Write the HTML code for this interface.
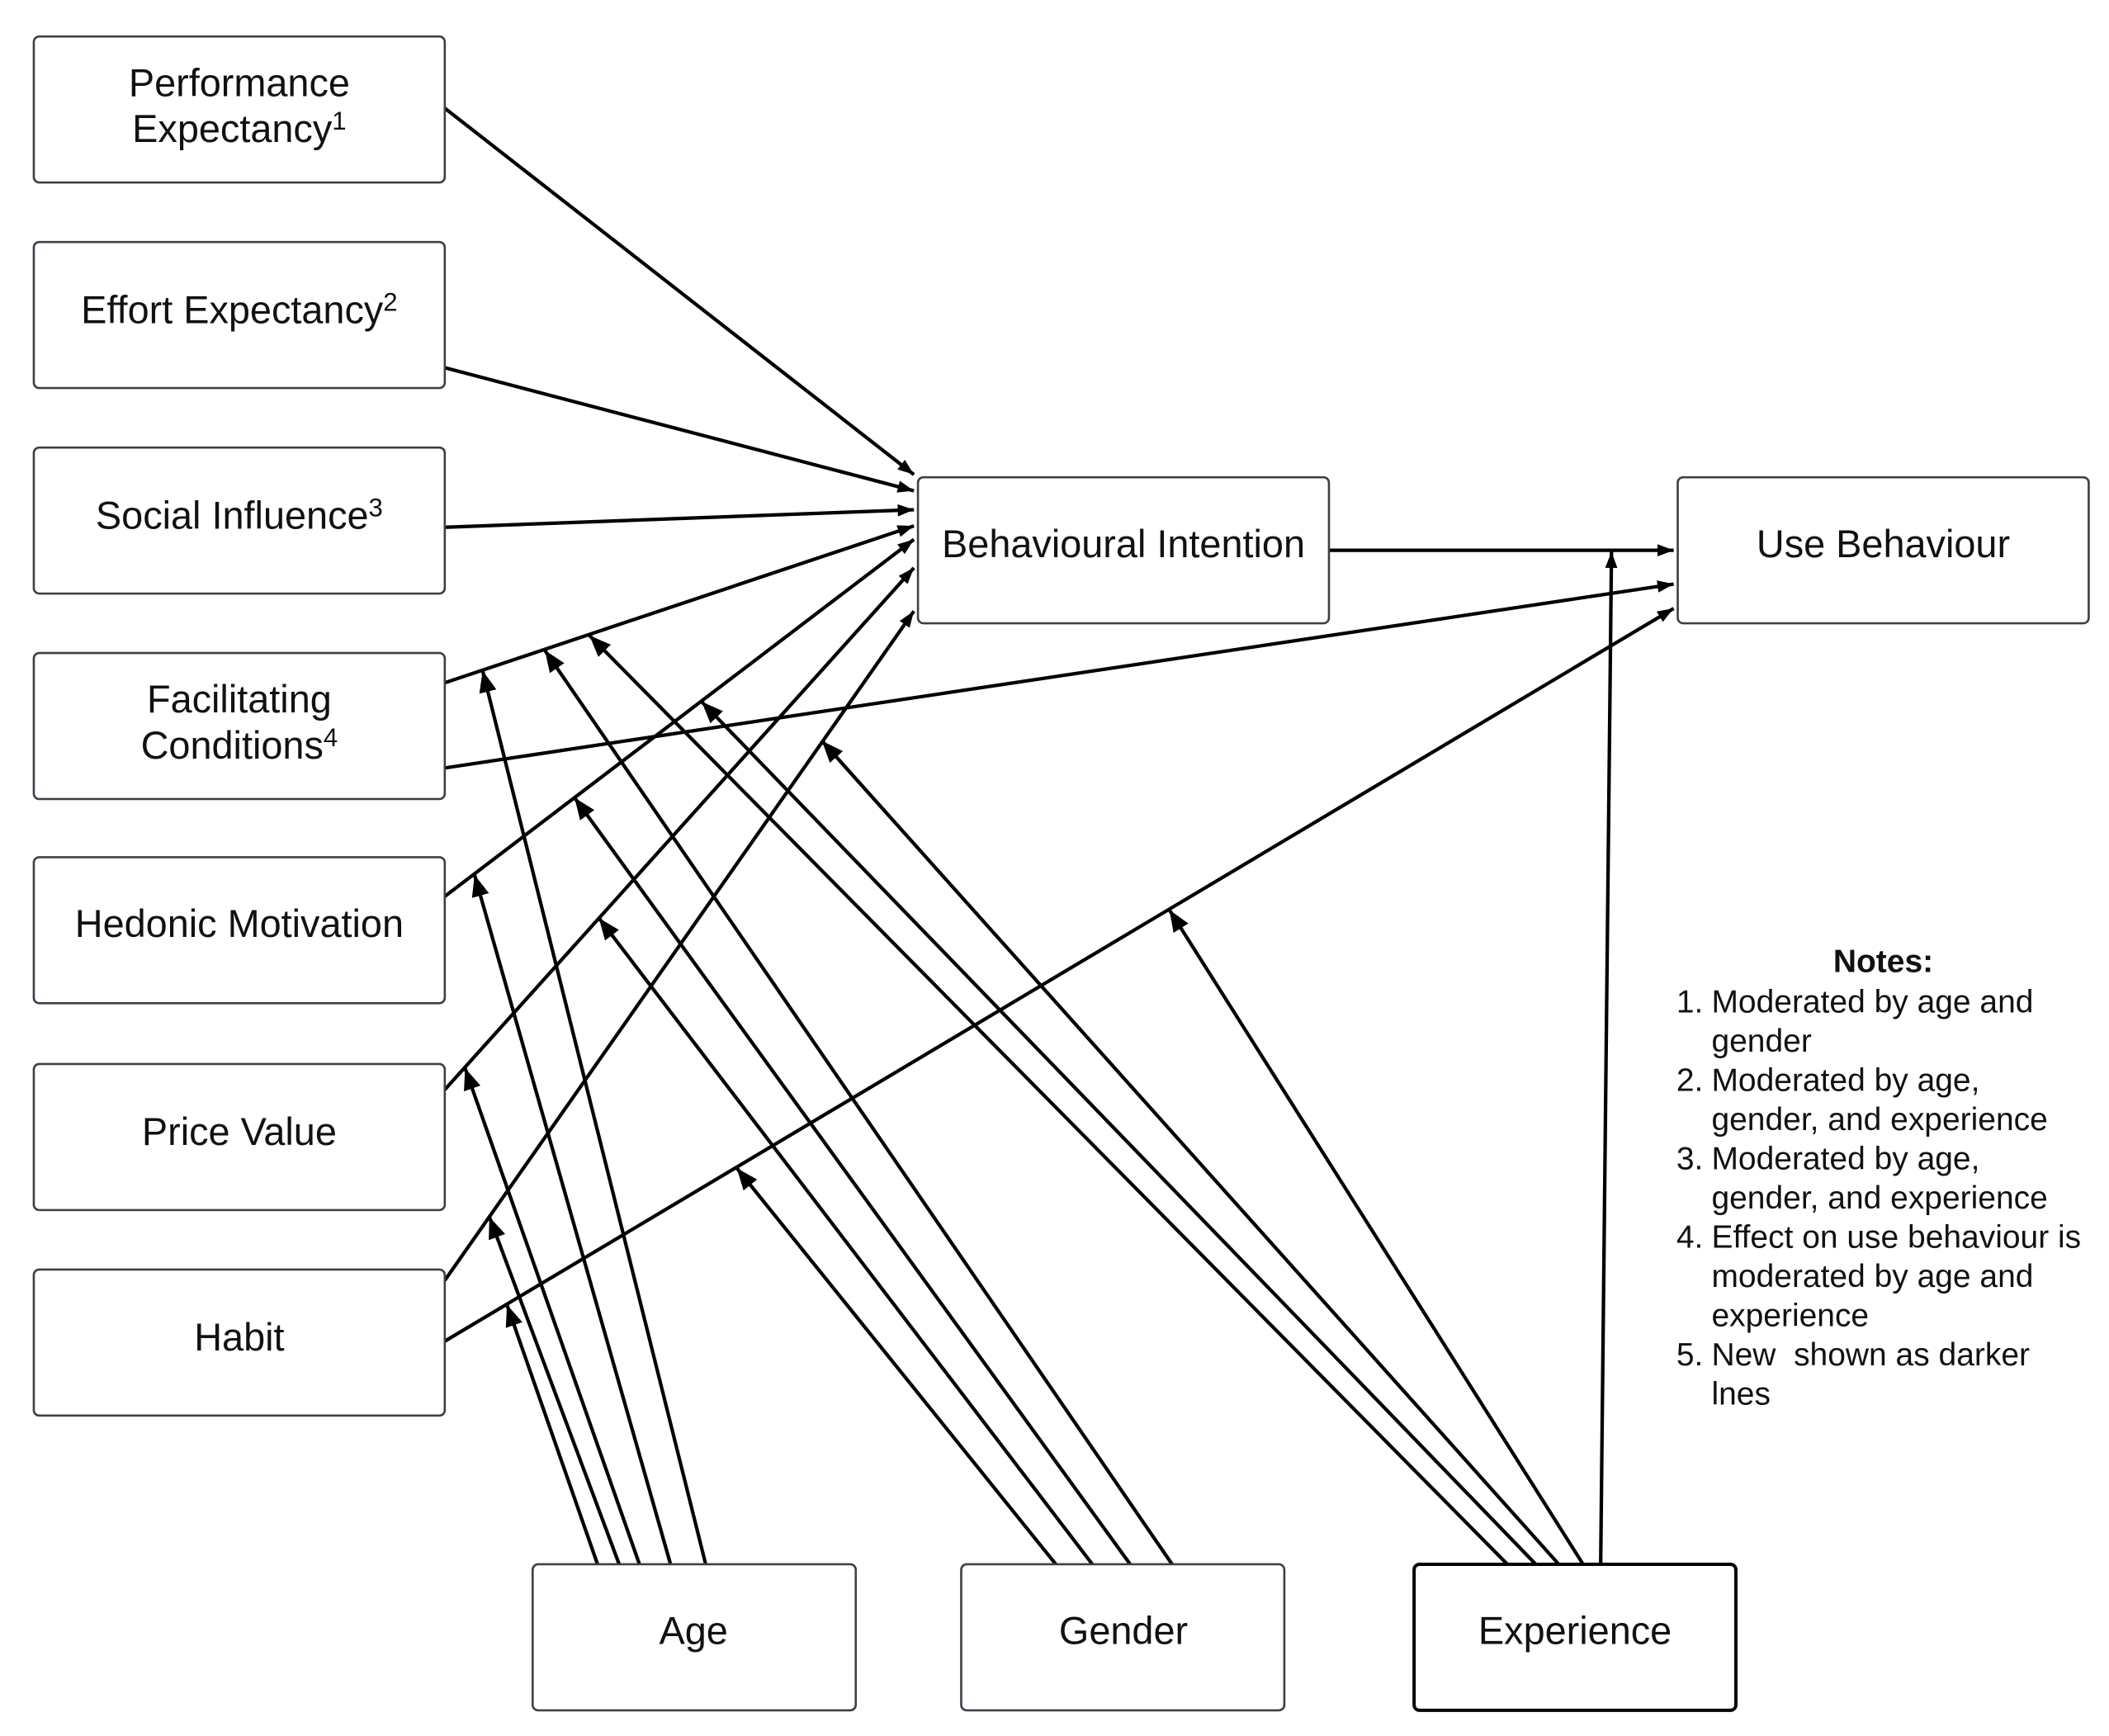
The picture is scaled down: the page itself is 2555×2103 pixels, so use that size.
<!DOCTYPE html>
<html><head><meta charset="utf-8"><style>
html,body{margin:0;padding:0;background:#fff;}
svg{display:block;}
text{font-family:"Liberation Sans",Arial,sans-serif;fill:#111;}
</style></head><body>
<svg width="2555" height="2103" viewBox="0 0 1560 1284" preserveAspectRatio="none" xmlns="http://www.w3.org/2000/svg">
<defs>
<marker id="a" markerUnits="userSpaceOnUse" markerWidth="18" markerHeight="14" refX="16" refY="6.5" orient="auto"><path d="M0,0 L16,6.5 L0,13 Z" fill="#000"/></marker>
<marker id="s" markerUnits="userSpaceOnUse" markerWidth="14" markerHeight="10" refX="12" refY="4.5" orient="auto"><path d="M0,0 L12,4.5 L0,9 Z" fill="#000"/></marker>
</defs>
<g stroke="#000" stroke-width="2.6" fill="none">
<line x1="329" y1="80" x2="676" y2="351" marker-end="url(#s)"/>
<line x1="329" y1="272" x2="676" y2="363" marker-end="url(#s)"/>
<line x1="329" y1="390" x2="676" y2="377" marker-end="url(#s)"/>
<line x1="329" y1="505" x2="676" y2="389" marker-end="url(#s)"/>
<line x1="329" y1="663" x2="676" y2="399" marker-end="url(#s)"/>
<line x1="329" y1="806" x2="676" y2="420" marker-end="url(#s)"/>
<line x1="329" y1="947" x2="676" y2="452" marker-end="url(#s)"/>
<line x1="329" y1="568" x2="1238" y2="432" marker-end="url(#s)"/>
<line x1="329" y1="992" x2="1238" y2="450" marker-end="url(#s)"/>
<line x1="983" y1="407" x2="1238" y2="407" marker-end="url(#s)"/>
<line x1="442" y1="1157" x2="375" y2="965" marker-end="url(#a)"/>
<line x1="458" y1="1157" x2="362" y2="900" marker-end="url(#a)"/>
<line x1="473" y1="1157" x2="344" y2="790" marker-end="url(#a)"/>
<line x1="496" y1="1157" x2="351" y2="647" marker-end="url(#a)"/>
<line x1="522" y1="1157" x2="357" y2="496" marker-end="url(#a)"/>
<line x1="781" y1="1157" x2="545" y2="864" marker-end="url(#a)"/>
<line x1="808" y1="1157" x2="443" y2="679" marker-end="url(#a)"/>
<line x1="836" y1="1157" x2="425" y2="590" marker-end="url(#a)"/>
<line x1="867" y1="1157" x2="403" y2="481" marker-end="url(#a)"/>
<line x1="1115" y1="1157" x2="436" y2="470" marker-end="url(#a)"/>
<line x1="1136" y1="1157" x2="519" y2="519" marker-end="url(#a)"/>
<line x1="1153" y1="1157" x2="608" y2="548" marker-end="url(#a)"/>
<line x1="1171" y1="1157" x2="865" y2="673" marker-end="url(#a)"/>
<line x1="1184" y1="1157" x2="1192" y2="408" marker-end="url(#s)"/>
</g>
<g fill="#fff" stroke="#3c4048" stroke-width="1.6">
<rect x="25" y="27" width="304" height="108" rx="4"/>
<rect x="25" y="179" width="304" height="108" rx="4"/>
<rect x="25" y="331" width="304" height="108" rx="4"/>
<rect x="25" y="483" width="304" height="108" rx="4"/>
<rect x="25" y="634" width="304" height="108" rx="4"/>
<rect x="25" y="787" width="304" height="108" rx="4"/>
<rect x="25" y="939" width="304" height="108" rx="4"/>
<rect x="679" y="353" width="304" height="108" rx="4"/>
<rect x="1241" y="353" width="304" height="108" rx="4"/>
<rect x="394" y="1157" width="239" height="108" rx="4"/>
<rect x="711" y="1157" width="239" height="108" rx="4"/>
<rect x="1046" y="1157" width="238" height="108" rx="4" stroke="#000" stroke-width="2.4"/>
</g>
<g font-size="28.6" text-anchor="middle">
<text x="177" y="71">Performance</text>
<text x="177" y="105">Expectancy<tspan font-size="19" dy="-9">1</tspan></text>
<text x="177" y="239">Effort Expectancy<tspan font-size="19" dy="-9">2</tspan></text>
<text x="177" y="391">Social Influence<tspan font-size="19" dy="-9">3</tspan></text>
<text x="177" y="527">Facilitating</text>
<text x="177" y="561">Conditions<tspan font-size="19" dy="-9">4</tspan></text>
<text x="177" y="693">Hedonic Motivation</text>
<text x="177" y="847">Price Value</text>
<text x="177" y="999">Habit</text>
<text x="831" y="412">Behavioural Intention</text>
<text x="1393" y="412">Use Behaviour</text>
<text x="513" y="1216">Age</text>
<text x="831" y="1216">Gender</text>
<text x="1165" y="1216">Experience</text>
</g>
<g font-size="23.8">
<text x="1393" y="719" text-anchor="middle" font-weight="bold">Notes:</text>
<text x="1240" y="749">1.</text><text x="1266" y="749">Moderated by age and</text>
<text x="1266" y="778">gender</text>
<text x="1240" y="807">2.</text><text x="1266" y="807">Moderated by age,</text>
<text x="1266" y="836">gender, and experience</text>
<text x="1240" y="865">3.</text><text x="1266" y="865">Moderated by age,</text>
<text x="1266" y="894">gender, and experience</text>
<text x="1240" y="923">4.</text><text x="1266" y="923">Effect on use behaviour is</text>
<text x="1266" y="952">moderated by age and</text>
<text x="1266" y="981">experience</text>
<text x="1240" y="1010">5.</text><text x="1266" y="1010" xml:space="preserve">New  shown as darker</text>
<text x="1266" y="1039">lnes</text>
</g>
</svg>
</body></html>
